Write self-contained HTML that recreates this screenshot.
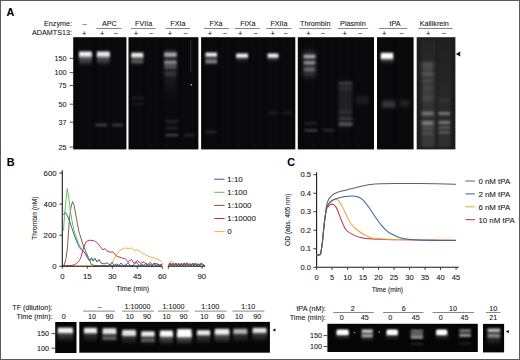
<!DOCTYPE html>
<html><head><meta charset="utf-8"><title>Figure</title>
<style>
html,body{margin:0;padding:0;background:#fff;}
body{width:520px;height:360px;overflow:hidden;}
svg{display:block;font-family:"Liberation Sans",sans-serif;}
text{stroke:#333;stroke-width:0.08px;}
</style></head>
<body>
<svg width="520" height="360" viewBox="0 0 520 360">
<defs>
<filter id="b05" x="-50%" y="-50%" width="200%" height="200%"><feGaussianBlur stdDeviation="0.5"/></filter>
<filter id="b07" x="-50%" y="-50%" width="200%" height="200%"><feGaussianBlur stdDeviation="0.7"/></filter>
<filter id="b1" x="-50%" y="-50%" width="200%" height="200%"><feGaussianBlur stdDeviation="1.0"/></filter>
<filter id="b13" x="-50%" y="-50%" width="200%" height="200%"><feGaussianBlur stdDeviation="1.3"/></filter>
<filter id="b15" x="-50%" y="-50%" width="200%" height="200%"><feGaussianBlur stdDeviation="1.5"/></filter>
<filter id="b2" x="-50%" y="-50%" width="200%" height="200%"><feGaussianBlur stdDeviation="2.0"/></filter>
<filter id="b25" x="-50%" y="-50%" width="200%" height="200%"><feGaussianBlur stdDeviation="2.5"/></filter>
<filter id="b3" x="-50%" y="-50%" width="200%" height="200%"><feGaussianBlur stdDeviation="3.0"/></filter>
<linearGradient id="sm" x1="0" y1="0" x2="0" y2="1"><stop offset="0" stop-color="#fff" stop-opacity="1"/><stop offset="1" stop-color="#fff" stop-opacity="0"/></linearGradient>
<linearGradient id="smi" x1="0" y1="0" x2="0" y2="1"><stop offset="0" stop-color="#fff" stop-opacity="0"/><stop offset="1" stop-color="#fff" stop-opacity="1"/></linearGradient>
</defs>
<rect x="0.00" y="0.00" width="520.00" height="360.00" fill="#fff" />
<text x="6.60" y="16.00" font-size="10.8" text-anchor="start" font-weight="bold" fill="#000" >A</text>
<text x="72.00" y="25.70" font-size="7.2" text-anchor="end" font-weight="normal" fill="#111" >Enzyme:</text>
<text x="72.00" y="35.10" font-size="7.2" text-anchor="end" font-weight="normal" fill="#111" >ADAMTS13:</text>
<rect x="73.20" y="37.20" width="53.20" height="112.20" fill="#08080a" />
<rect x="128.50" y="37.20" width="69.90" height="112.20" fill="#08080a" />
<rect x="201.10" y="37.20" width="94.20" height="112.20" fill="#08080a" />
<rect x="297.80" y="37.20" width="76.20" height="112.20" fill="#08080a" />
<rect x="377.00" y="37.20" width="36.60" height="112.20" fill="#08080a" />
<rect x="416.70" y="37.20" width="38.70" height="112.20" fill="#1c1c1c" />
<text x="109.40" y="25.70" font-size="7.2" text-anchor="middle" font-weight="normal" fill="#111" >APC</text>
<line x1="96.30" y1="28.50" x2="121.60" y2="28.50" stroke="#555" stroke-width="0.7"/>
<text x="143.60" y="25.70" font-size="7.2" text-anchor="middle" font-weight="normal" fill="#111" >FVIIa</text>
<line x1="131.00" y1="28.50" x2="155.80" y2="28.50" stroke="#555" stroke-width="0.7"/>
<text x="177.90" y="25.70" font-size="7.2" text-anchor="middle" font-weight="normal" fill="#111" >FXIa</text>
<line x1="165.50" y1="28.50" x2="190.20" y2="28.50" stroke="#555" stroke-width="0.7"/>
<text x="216.00" y="25.70" font-size="7.2" text-anchor="middle" font-weight="normal" fill="#111" >FXa</text>
<line x1="204.00" y1="28.50" x2="229.20" y2="28.50" stroke="#555" stroke-width="0.7"/>
<text x="247.80" y="25.70" font-size="7.2" text-anchor="middle" font-weight="normal" fill="#111" >FIXa</text>
<line x1="234.70" y1="28.50" x2="259.90" y2="28.50" stroke="#555" stroke-width="0.7"/>
<text x="279.00" y="25.70" font-size="7.2" text-anchor="middle" font-weight="normal" fill="#111" >FXIIa</text>
<line x1="266.50" y1="28.50" x2="291.50" y2="28.50" stroke="#555" stroke-width="0.7"/>
<text x="315.20" y="25.70" font-size="7.2" text-anchor="middle" font-weight="normal" fill="#111" >Thrombin</text>
<line x1="299.30" y1="28.50" x2="331.00" y2="28.50" stroke="#555" stroke-width="0.7"/>
<text x="352.90" y="25.70" font-size="7.2" text-anchor="middle" font-weight="normal" fill="#111" >Plasmin</text>
<line x1="338.00" y1="28.50" x2="368.20" y2="28.50" stroke="#555" stroke-width="0.7"/>
<text x="395.00" y="25.70" font-size="7.2" text-anchor="middle" font-weight="normal" fill="#111" >tPA</text>
<line x1="379.00" y1="28.50" x2="407.20" y2="28.50" stroke="#555" stroke-width="0.7"/>
<text x="434.30" y="25.70" font-size="7.2" text-anchor="middle" font-weight="normal" fill="#111" >Kallikrein</text>
<line x1="418.20" y1="28.50" x2="452.60" y2="28.50" stroke="#555" stroke-width="0.7"/>
<text x="84.60" y="25.90" font-size="7.2" text-anchor="middle" font-weight="normal" fill="#111" >–</text>
<text x="84.10" y="35.90" font-size="7.6" text-anchor="middle" font-weight="normal" fill="#111" >+</text>
<text x="102.30" y="35.90" font-size="7.6" text-anchor="middle" font-weight="normal" fill="#111" >+</text>
<text x="136.00" y="35.90" font-size="7.6" text-anchor="middle" font-weight="normal" fill="#111" >+</text>
<text x="170.00" y="35.90" font-size="7.6" text-anchor="middle" font-weight="normal" fill="#111" >+</text>
<text x="209.90" y="35.90" font-size="7.6" text-anchor="middle" font-weight="normal" fill="#111" >+</text>
<text x="240.20" y="35.90" font-size="7.6" text-anchor="middle" font-weight="normal" fill="#111" >+</text>
<text x="272.60" y="35.90" font-size="7.6" text-anchor="middle" font-weight="normal" fill="#111" >+</text>
<text x="308.50" y="35.90" font-size="7.6" text-anchor="middle" font-weight="normal" fill="#111" >+</text>
<text x="344.60" y="35.90" font-size="7.6" text-anchor="middle" font-weight="normal" fill="#111" >+</text>
<text x="384.20" y="35.90" font-size="7.6" text-anchor="middle" font-weight="normal" fill="#111" >+</text>
<text x="428.20" y="35.90" font-size="7.6" text-anchor="middle" font-weight="normal" fill="#111" >+</text>
<text x="115.60" y="35.90" font-size="7.6" text-anchor="middle" font-weight="normal" fill="#111" >−</text>
<text x="151.10" y="35.90" font-size="7.6" text-anchor="middle" font-weight="normal" fill="#111" >−</text>
<text x="185.40" y="35.90" font-size="7.6" text-anchor="middle" font-weight="normal" fill="#111" >−</text>
<text x="225.00" y="35.90" font-size="7.6" text-anchor="middle" font-weight="normal" fill="#111" >−</text>
<text x="255.80" y="35.90" font-size="7.6" text-anchor="middle" font-weight="normal" fill="#111" >−</text>
<text x="285.80" y="35.90" font-size="7.6" text-anchor="middle" font-weight="normal" fill="#111" >−</text>
<text x="323.00" y="35.90" font-size="7.6" text-anchor="middle" font-weight="normal" fill="#111" >−</text>
<text x="360.00" y="35.90" font-size="7.6" text-anchor="middle" font-weight="normal" fill="#111" >−</text>
<text x="401.50" y="35.90" font-size="7.6" text-anchor="middle" font-weight="normal" fill="#111" >−</text>
<text x="443.80" y="35.90" font-size="7.6" text-anchor="middle" font-weight="normal" fill="#111" >−</text>
<text x="66.40" y="60.90" font-size="7.2" text-anchor="end" font-weight="normal" fill="#111" >150</text>
<line x1="69.60" y1="58.30" x2="73.30" y2="58.30" stroke="#222" stroke-width="0.8"/>
<text x="66.40" y="75.20" font-size="7.2" text-anchor="end" font-weight="normal" fill="#111" >100</text>
<line x1="69.60" y1="72.60" x2="73.30" y2="72.60" stroke="#222" stroke-width="0.8"/>
<text x="66.40" y="88.10" font-size="7.2" text-anchor="end" font-weight="normal" fill="#111" >75</text>
<line x1="69.60" y1="85.50" x2="73.30" y2="85.50" stroke="#222" stroke-width="0.8"/>
<text x="66.40" y="106.80" font-size="7.2" text-anchor="end" font-weight="normal" fill="#111" >50</text>
<line x1="69.60" y1="104.20" x2="73.30" y2="104.20" stroke="#222" stroke-width="0.8"/>
<text x="66.40" y="124.80" font-size="7.2" text-anchor="end" font-weight="normal" fill="#111" >37</text>
<line x1="69.60" y1="122.20" x2="73.30" y2="122.20" stroke="#222" stroke-width="0.8"/>
<text x="66.40" y="149.60" font-size="7.2" text-anchor="end" font-weight="normal" fill="#111" >25</text>
<line x1="69.60" y1="147.00" x2="73.30" y2="147.00" stroke="#222" stroke-width="0.8"/>
<rect x="79.00" y="38.20" width="12.80" height="110.20" fill="#fff" fill-opacity="0.012"/>
<rect x="96.90" y="38.20" width="12.90" height="110.20" fill="#fff" fill-opacity="0.012"/>
<rect x="111.80" y="38.20" width="11.20" height="110.20" fill="#fff" fill-opacity="0.012"/>
<rect x="131.30" y="38.20" width="12.00" height="110.20" fill="#fff" fill-opacity="0.012"/>
<rect x="147.00" y="38.20" width="12.00" height="110.20" fill="#fff" fill-opacity="0.012"/>
<rect x="164.20" y="38.20" width="12.50" height="110.20" fill="#fff" fill-opacity="0.012"/>
<rect x="182.00" y="38.20" width="12.50" height="110.20" fill="#fff" fill-opacity="0.012"/>
<rect x="205.50" y="38.20" width="11.50" height="110.20" fill="#fff" fill-opacity="0.012"/>
<rect x="220.00" y="38.20" width="11.00" height="110.20" fill="#fff" fill-opacity="0.012"/>
<rect x="236.20" y="38.20" width="11.80" height="110.20" fill="#fff" fill-opacity="0.012"/>
<rect x="251.00" y="38.20" width="11.00" height="110.20" fill="#fff" fill-opacity="0.012"/>
<rect x="267.60" y="38.20" width="10.80" height="110.20" fill="#fff" fill-opacity="0.012"/>
<rect x="281.00" y="38.20" width="11.00" height="110.20" fill="#fff" fill-opacity="0.012"/>
<rect x="303.40" y="38.20" width="12.20" height="110.20" fill="#fff" fill-opacity="0.012"/>
<rect x="321.00" y="38.20" width="13.00" height="110.20" fill="#fff" fill-opacity="0.012"/>
<rect x="339.00" y="38.20" width="12.50" height="110.20" fill="#fff" fill-opacity="0.012"/>
<rect x="355.00" y="38.20" width="13.80" height="110.20" fill="#fff" fill-opacity="0.012"/>
<rect x="380.80" y="38.20" width="12.40" height="110.20" fill="#fff" fill-opacity="0.012"/>
<rect x="396.00" y="38.20" width="13.00" height="110.20" fill="#fff" fill-opacity="0.012"/>
<rect x="79.00" y="51.50" width="12.80" height="5.00" fill="#fff" fill-opacity="0.95" filter="url(#b13)"/>
<rect x="79.00" y="55.00" width="12.80" height="11.00" fill="url(#sm)" fill-opacity="0.45" filter="url(#b13)"/>
<rect x="96.90" y="51.50" width="12.90" height="5.00" fill="#fff" fill-opacity="0.92" filter="url(#b13)"/>
<rect x="96.90" y="55.00" width="12.90" height="11.00" fill="url(#sm)" fill-opacity="0.42" filter="url(#b13)"/>
<rect x="95.00" y="123.75" width="12.00" height="2.50" fill="#fff" fill-opacity="0.22" filter="url(#b1)"/>
<rect x="111.80" y="123.75" width="11.20" height="2.50" fill="#fff" fill-opacity="0.2" filter="url(#b1)"/>
<rect x="131.30" y="52.70" width="12.00" height="4.60" fill="#fff" fill-opacity="0.92" filter="url(#b13)"/>
<rect x="131.30" y="56.00" width="12.00" height="10.00" fill="url(#sm)" fill-opacity="0.35" filter="url(#b13)"/>
<rect x="131.30" y="60.20" width="12.00" height="3.00" fill="#fff" fill-opacity="0.2" filter="url(#b1)"/>
<rect x="131.30" y="96.80" width="12.70" height="2.40" fill="#fff" fill-opacity="0.08" filter="url(#b1)"/>
<rect x="131.30" y="102.60" width="12.70" height="2.40" fill="#fff" fill-opacity="0.07" filter="url(#b1)"/>
<rect x="164.20" y="50.00" width="12.50" height="50.00" fill="url(#sm)" fill-opacity="0.15" filter="url(#b15)"/>
<rect x="164.20" y="52.70" width="12.50" height="4.00" fill="#fff" fill-opacity="0.62" filter="url(#b13)"/>
<rect x="164.20" y="60.50" width="12.50" height="4.00" fill="#fff" fill-opacity="0.45" filter="url(#b13)"/>
<rect x="164.20" y="65.50" width="12.50" height="3.00" fill="#fff" fill-opacity="0.25" filter="url(#b1)"/>
<rect x="164.20" y="72.00" width="12.50" height="4.00" fill="#fff" fill-opacity="0.12" filter="url(#b15)"/>
<rect x="165.60" y="120.10" width="12.60" height="3.00" fill="#fff" fill-opacity="0.1" filter="url(#b1)"/>
<rect x="165.60" y="126.50" width="12.60" height="3.00" fill="#fff" fill-opacity="0.1" filter="url(#b1)"/>
<rect x="165.60" y="133.80" width="12.60" height="2.60" fill="#fff" fill-opacity="0.22" filter="url(#b1)"/>
<rect x="183.70" y="133.90" width="10.80" height="2.40" fill="#fff" fill-opacity="0.12" filter="url(#b1)"/>
<rect x="190.20" y="40.00" width="1.20" height="32.00" fill="#fff" fill-opacity="0.12" filter="url(#b05)"/>
<rect x="190.60" y="84.00" width="1.40" height="1.40" fill="#fff" fill-opacity="0.7" filter="url(#b05)"/>
<rect x="205.50" y="52.60" width="11.50" height="4.00" fill="#fff" fill-opacity="0.95" filter="url(#b13)"/>
<rect x="205.50" y="59.50" width="11.50" height="4.00" fill="#fff" fill-opacity="0.42" filter="url(#b13)"/>
<rect x="205.50" y="56.00" width="11.50" height="10.00" fill="url(#sm)" fill-opacity="0.2" filter="url(#b13)"/>
<rect x="205.50" y="130.75" width="10.50" height="2.50" fill="#fff" fill-opacity="0.12" filter="url(#b1)"/>
<rect x="267.60" y="111.75" width="10.80" height="2.50" fill="#fff" fill-opacity="0.08" filter="url(#b1)"/>
<rect x="282.00" y="111.75" width="10.00" height="2.50" fill="#fff" fill-opacity="0.07" filter="url(#b1)"/>
<rect x="236.20" y="53.50" width="11.80" height="4.20" fill="#fff" fill-opacity="0.95" filter="url(#b13)"/>
<rect x="236.20" y="57.00" width="11.80" height="6.00" fill="url(#sm)" fill-opacity="0.2" filter="url(#b13)"/>
<rect x="267.60" y="53.50" width="10.80" height="4.20" fill="#fff" fill-opacity="0.95" filter="url(#b13)"/>
<rect x="267.60" y="57.00" width="10.80" height="6.00" fill="url(#sm)" fill-opacity="0.2" filter="url(#b13)"/>
<rect x="303.40" y="51.00" width="12.20" height="26.00" fill="#fff" fill-opacity="0.16" filter="url(#b2)"/>
<rect x="303.60" y="54.80" width="11.80" height="3.40" fill="#fff" fill-opacity="0.6" filter="url(#b13)"/>
<rect x="303.60" y="61.10" width="11.80" height="3.40" fill="#fff" fill-opacity="0.45" filter="url(#b13)"/>
<rect x="303.60" y="67.80" width="11.80" height="3.40" fill="#fff" fill-opacity="0.28" filter="url(#b13)"/>
<rect x="304.70" y="122.15" width="12.70" height="2.50" fill="#fff" fill-opacity="0.1" filter="url(#b1)"/>
<rect x="304.70" y="129.15" width="12.70" height="2.50" fill="#fff" fill-opacity="0.2" filter="url(#b1)"/>
<rect x="322.80" y="129.10" width="11.70" height="2.20" fill="#fff" fill-opacity="0.15" filter="url(#b1)"/>
<rect x="338.50" y="81.00" width="14.00" height="46.00" fill="#fff" fill-opacity="0.09" filter="url(#b15)"/>
<rect x="338.50" y="81.95" width="14.00" height="2.50" fill="#fff" fill-opacity="0.14" filter="url(#b1)"/>
<rect x="338.50" y="86.95" width="14.00" height="2.50" fill="#fff" fill-opacity="0.08" filter="url(#b1)"/>
<rect x="338.50" y="110.75" width="14.00" height="2.50" fill="#fff" fill-opacity="0.08" filter="url(#b1)"/>
<rect x="338.50" y="117.45" width="14.00" height="2.50" fill="#fff" fill-opacity="0.13" filter="url(#b1)"/>
<rect x="338.50" y="122.70" width="14.00" height="3.00" fill="#fff" fill-opacity="0.25" filter="url(#b1)"/>
<rect x="356.00" y="96.00" width="12.80" height="8.00" fill="#fff" fill-opacity="0.08" filter="url(#b15)"/>
<rect x="382.00" y="100.70" width="13.30" height="7.00" fill="#fff" fill-opacity="0.18" filter="url(#b15)"/>
<rect x="399.50" y="100.00" width="10.00" height="7.00" fill="#fff" fill-opacity="0.09" filter="url(#b15)"/>
<rect x="380.80" y="52.80" width="12.40" height="6.00" fill="#fff" fill-opacity="1.0" filter="url(#b1)"/>
<rect x="380.80" y="57.00" width="12.40" height="7.00" fill="url(#sm)" fill-opacity="0.4" filter="url(#b1)"/>
<rect x="421.5" y="39" width="13" height="108" fill="url(#smi)" fill-opacity="0.10" filter="url(#b15)"/>
<rect x="421.50" y="39.00" width="13.00" height="108.00" fill="#fff" fill-opacity="0.035" filter="url(#b15)"/>
<rect x="438" y="39" width="12.5" height="108" fill="url(#smi)" fill-opacity="0.07" filter="url(#b15)"/>
<rect x="438.00" y="39.00" width="12.50" height="108.00" fill="#fff" fill-opacity="0.02" filter="url(#b15)"/>
<rect x="434.30" y="39.00" width="0.90" height="108.00" fill="#fff" fill-opacity="0.05"/>
<rect x="421.70" y="62.00" width="11.80" height="40.00" fill="#fff" fill-opacity="0.07" filter="url(#b2)"/>
<rect x="421.70" y="62.50" width="11.80" height="3.00" fill="#fff" fill-opacity="0.16" filter="url(#b15)"/>
<rect x="421.70" y="66.50" width="11.80" height="3.00" fill="#fff" fill-opacity="0.12" filter="url(#b15)"/>
<rect x="421.70" y="72.30" width="11.80" height="3.00" fill="#fff" fill-opacity="0.18" filter="url(#b15)"/>
<rect x="421.70" y="79.20" width="11.80" height="3.00" fill="#fff" fill-opacity="0.08" filter="url(#b15)"/>
<rect x="421.70" y="86.50" width="11.80" height="3.00" fill="#fff" fill-opacity="0.05" filter="url(#b15)"/>
<rect x="421.70" y="96.50" width="11.80" height="3.00" fill="#fff" fill-opacity="0.05" filter="url(#b15)"/>
<rect x="421.70" y="112.00" width="11.80" height="3.00" fill="#fff" fill-opacity="0.42" filter="url(#b15)"/>
<rect x="421.70" y="121.50" width="11.80" height="3.00" fill="#fff" fill-opacity="0.48" filter="url(#b15)"/>
<rect x="421.70" y="126.40" width="11.80" height="3.00" fill="#fff" fill-opacity="0.16" filter="url(#b15)"/>
<rect x="421.70" y="131.80" width="11.80" height="3.00" fill="#fff" fill-opacity="0.14" filter="url(#b15)"/>
<rect x="438.50" y="112.10" width="11.50" height="2.80" fill="#fff" fill-opacity="0.38" filter="url(#b13)"/>
<rect x="438.50" y="121.10" width="11.50" height="2.80" fill="#fff" fill-opacity="0.38" filter="url(#b13)"/>
<rect x="438.50" y="126.10" width="11.50" height="2.80" fill="#fff" fill-opacity="0.2" filter="url(#b13)"/>
<rect x="438.50" y="131.00" width="11.50" height="2.80" fill="#fff" fill-opacity="0.2" filter="url(#b13)"/>
<rect x="438.50" y="98.60" width="11.50" height="2.80" fill="#fff" fill-opacity="0.05" filter="url(#b13)"/>
<path d="M455.8,54.1 L460.2,51.6 L460.2,56.6 Z" fill="#111"/>
<text x="6.80" y="166.30" font-size="10.8" text-anchor="start" font-weight="bold" fill="#000" >B</text>
<line x1="59.30" y1="266.30" x2="62.30" y2="266.30" stroke="#222" stroke-width="0.9"/>
<text x="56.60" y="269.10" font-size="7.8" text-anchor="end" font-weight="normal" fill="#111" >0</text>
<line x1="59.30" y1="235.20" x2="62.30" y2="235.20" stroke="#222" stroke-width="0.9"/>
<text x="56.60" y="238.00" font-size="7.8" text-anchor="end" font-weight="normal" fill="#111" >200</text>
<line x1="59.30" y1="204.10" x2="62.30" y2="204.10" stroke="#222" stroke-width="0.9"/>
<text x="56.60" y="206.90" font-size="7.8" text-anchor="end" font-weight="normal" fill="#111" >400</text>
<line x1="59.30" y1="173.00" x2="62.30" y2="173.00" stroke="#222" stroke-width="0.9"/>
<text x="56.60" y="175.80" font-size="7.8" text-anchor="end" font-weight="normal" fill="#111" >600</text>
<line x1="62.30" y1="266.30" x2="62.30" y2="268.70" stroke="#222" stroke-width="0.9"/>
<text x="62.30" y="279.00" font-size="7.8" text-anchor="middle" font-weight="normal" fill="#111" >0</text>
<line x1="87.30" y1="266.30" x2="87.30" y2="268.70" stroke="#222" stroke-width="0.9"/>
<text x="87.30" y="279.00" font-size="7.8" text-anchor="middle" font-weight="normal" fill="#111" >15</text>
<line x1="112.30" y1="266.30" x2="112.30" y2="268.70" stroke="#222" stroke-width="0.9"/>
<text x="112.30" y="279.00" font-size="7.8" text-anchor="middle" font-weight="normal" fill="#111" >30</text>
<line x1="137.30" y1="266.30" x2="137.30" y2="268.70" stroke="#222" stroke-width="0.9"/>
<text x="137.30" y="279.00" font-size="7.8" text-anchor="middle" font-weight="normal" fill="#111" >45</text>
<line x1="162.30" y1="266.30" x2="162.30" y2="268.70" stroke="#222" stroke-width="0.9"/>
<text x="162.30" y="279.00" font-size="7.8" text-anchor="middle" font-weight="normal" fill="#111" >60</text>
<line x1="202.00" y1="266.30" x2="202.00" y2="268.70" stroke="#222" stroke-width="0.9"/>
<line x1="168.30" y1="266.30" x2="168.30" y2="268.70" stroke="#222" stroke-width="0.9"/>
<text x="201.80" y="279.00" font-size="7.8" text-anchor="middle" font-weight="normal" fill="#111" >90</text>
<text x="132.70" y="290.80" font-size="6.9" text-anchor="middle" font-weight="normal" fill="#111" >Time (min)</text>
<text transform="translate(36.7,218.2) rotate(-90)" font-size="6.6" text-anchor="middle" fill="#111">Thrombin (nM)</text>
<path d="M62.30,266.00 L108.00,266.00 L110.80,265.30 L113.00,261.00 L116.50,254.80 L120.00,250.20 L125.20,247.90 L128.00,248.60 L131.50,247.90 L135.00,250.80 L137.30,249.60 L141.90,253.00 L146.50,255.40 L151.10,257.10 L155.70,258.30 L160.40,260.60 L162.00,261.50" fill="none" stroke="#f0b040" stroke-width="0.95" stroke-linejoin="round" stroke-linecap="round" />
<path d="M62.30,266.00 L70.00,265.60 L73.90,265.00 L76.50,263.50 L79.40,260.50 L81.20,256.50 L82.90,250.00 L84.50,245.00 L86.40,241.50 L89.20,240.20 L93.30,240.60 L95.50,241.50 L97.50,243.00 L100.30,246.50 L103.00,250.00 L105.00,248.50 L107.20,251.00 L109.60,252.00 L113.10,252.00 L116.50,256.00 L121.10,257.70 L125.20,258.80 L128.10,261.70 L131.50,259.40 L133.80,263.40 L137.30,260.60 L140.80,263.40 L144.00,261.80 L147.00,265.00 L150.00,262.50 L153.00,265.20 L156.00,263.00 L159.00,265.40 L162.00,264.00" fill="none" stroke="#b82c55" stroke-width="0.95" stroke-linejoin="round" stroke-linecap="round" />
<path d="M62.30,266.00 L64.20,265.00 L66.00,258.50 L67.30,249.00 L68.50,232.00 L69.40,220.00 L70.60,209.00 L72.50,201.50 L74.00,205.00 L76.40,218.00 L79.00,232.00 L82.90,244.30 L85.50,251.00 L88.50,257.50 L91.30,264.50 L95.00,265.60 L162.00,266.00" fill="none" stroke="#7b5a3c" stroke-width="0.95" stroke-linejoin="round" stroke-linecap="round" />
<path d="M63.50,230.00 L65.00,210.00 L67.20,188.60 L68.60,196.00 L70.20,210.00 L72.00,221.00 L74.00,230.50 L76.30,237.50 L79.00,244.50 L82.00,249.50 L85.00,253.00 L87.50,256.50 L89.20,260.50 L91.50,257.50 L93.00,260.50 L95.00,258.50 L97.00,261.50 L99.00,260.00" fill="none" stroke="#5cbf5c" stroke-width="0.95" stroke-linejoin="round" stroke-linecap="round" />
<path d="M63.40,214.50 L65.30,212.60 L67.00,215.00 L69.40,220.50 L71.50,227.00 L73.90,234.00 L76.50,241.00 L79.40,247.50 L82.00,250.50 L84.30,252.20 L86.00,255.00 L87.50,258.00 L89.90,261.00 L91.50,258.00 L93.00,261.00 L95.00,258.50 L97.00,262.00 L99.00,259.50 L101.00,263.00 L104.00,264.00 L107.00,262.80 L110.00,265.00 L112.00,262.30 L114.00,265.30 L117.00,264.00 L119.00,265.50 L121.00,263.00 L123.00,265.50 L126.00,265.00 L128.00,262.50 L130.00,265.50 L133.00,265.50 L135.00,263.20 L137.00,262.50 L139.00,265.50 L142.00,264.50 L144.00,265.50 L146.00,263.00 L148.00,265.50 L150.00,264.00 L152.00,265.50 L154.00,263.00 L156.00,265.50 L158.00,264.00 L160.00,265.50 L162.00,264.50" fill="none" stroke="#35618f" stroke-width="0.95" stroke-linejoin="round" stroke-linecap="round" />
<path d="M168.50,264.50 L170.50,261.50 L172.50,261.00 L174.50,263.50 L176.00,265.00" fill="none" stroke="#f0b040" stroke-width="0.95" stroke-linejoin="round" stroke-linecap="round" />
<path d="M169.60,265.60 L170.90,262.99 L172.40,265.60 L173.70,263.24 L175.20,265.60 L176.50,263.10 L178.00,265.60 L179.30,263.28 L180.80,265.60 L182.10,263.30 L183.60,265.60 L184.90,262.85 L186.40,265.60 L187.70,262.81 L189.20,265.60 L190.50,263.47 L192.00,265.60 L193.30,263.01 L194.80,265.60 L196.10,262.99 L197.60,265.60 L198.90,263.60 L200.40,265.60 L201.70,263.18 L205.10,265.60" fill="none" stroke="#f0b040" stroke-width="0.9" stroke-linejoin="round" stroke-linecap="round" />
<path d="M168.60,266.00 L169.90,263.39 L171.40,266.00 L172.70,263.64 L174.20,266.00 L175.50,263.50 L177.00,266.00 L178.30,263.68 L179.80,266.00 L181.10,263.70 L182.60,266.00 L183.90,263.25 L185.40,266.00 L186.70,263.21 L188.20,266.00 L189.50,263.87 L191.00,266.00 L192.30,263.41 L193.80,266.00 L195.10,263.39 L196.60,266.00 L197.90,264.00 L199.40,266.00 L200.70,263.58 L204.10,266.00" fill="none" stroke="#b82c55" stroke-width="0.9" stroke-linejoin="round" stroke-linecap="round" />
<path d="M169.00,265.60 L170.30,262.99 L171.80,265.60 L173.10,263.24 L174.60,265.60 L175.90,263.10 L177.40,265.60 L178.70,263.28 L180.20,265.60 L181.50,263.30 L183.00,265.60 L184.30,262.85 L185.80,265.60 L187.10,262.81 L188.60,265.60 L189.90,263.47 L191.40,265.60 L192.70,263.01 L194.20,265.60 L195.50,262.99 L197.00,265.60 L198.30,263.60 L199.80,265.60 L201.10,263.18 L204.50,265.60" fill="none" stroke="#35618f" stroke-width="0.9" stroke-linejoin="round" stroke-linecap="round" />
<line x1="62.30" y1="170.20" x2="62.30" y2="266.30" stroke="#1a1a1a" stroke-width="1.1"/>
<line x1="62.30" y1="266.30" x2="162.00" y2="266.30" stroke="#1a1a1a" stroke-width="1.1"/>
<line x1="168.30" y1="266.30" x2="205.00" y2="266.30" stroke="#1a1a1a" stroke-width="1.1"/>
<line x1="214.20" y1="179.20" x2="224.60" y2="179.20" stroke="#35618f" stroke-width="1.0"/>
<text x="227.30" y="182.00" font-size="7.9" text-anchor="start" font-weight="normal" fill="#111" >1:10</text>
<line x1="214.20" y1="192.30" x2="224.60" y2="192.30" stroke="#5cbf5c" stroke-width="1.0"/>
<text x="227.30" y="195.10" font-size="7.9" text-anchor="start" font-weight="normal" fill="#111" >1:100</text>
<line x1="214.20" y1="205.40" x2="224.60" y2="205.40" stroke="#7b5a3c" stroke-width="1.0"/>
<text x="227.30" y="208.20" font-size="7.9" text-anchor="start" font-weight="normal" fill="#111" >1:1000</text>
<line x1="214.20" y1="218.50" x2="224.60" y2="218.50" stroke="#b82c55" stroke-width="1.0"/>
<text x="227.30" y="221.30" font-size="7.9" text-anchor="start" font-weight="normal" fill="#111" >1:10000</text>
<line x1="214.20" y1="231.60" x2="224.60" y2="231.60" stroke="#f0b040" stroke-width="1.0"/>
<text x="227.30" y="234.40" font-size="7.9" text-anchor="start" font-weight="normal" fill="#111" >0</text>
<text x="287.30" y="166.00" font-size="10.8" text-anchor="start" font-weight="bold" fill="#000" >C</text>
<line x1="316.60" y1="172.30" x2="316.60" y2="267.30" stroke="#1a1a1a" stroke-width="1.1"/>
<line x1="316.60" y1="267.30" x2="458.70" y2="267.30" stroke="#1a1a1a" stroke-width="1.1"/>
<line x1="313.40" y1="267.30" x2="316.60" y2="267.30" stroke="#222" stroke-width="0.9"/>
<text x="311.00" y="270.00" font-size="7.6" text-anchor="end" font-weight="normal" fill="#111" >0.0</text>
<line x1="313.40" y1="248.78" x2="316.60" y2="248.78" stroke="#222" stroke-width="0.9"/>
<text x="311.00" y="251.48" font-size="7.6" text-anchor="end" font-weight="normal" fill="#111" >0.1</text>
<line x1="313.40" y1="230.26" x2="316.60" y2="230.26" stroke="#222" stroke-width="0.9"/>
<text x="311.00" y="232.96" font-size="7.6" text-anchor="end" font-weight="normal" fill="#111" >0.2</text>
<line x1="313.40" y1="211.74" x2="316.60" y2="211.74" stroke="#222" stroke-width="0.9"/>
<text x="311.00" y="214.44" font-size="7.6" text-anchor="end" font-weight="normal" fill="#111" >0.3</text>
<line x1="313.40" y1="193.22" x2="316.60" y2="193.22" stroke="#222" stroke-width="0.9"/>
<text x="311.00" y="195.92" font-size="7.6" text-anchor="end" font-weight="normal" fill="#111" >0.4</text>
<line x1="313.40" y1="174.70" x2="316.60" y2="174.70" stroke="#222" stroke-width="0.9"/>
<text x="311.00" y="177.40" font-size="7.6" text-anchor="end" font-weight="normal" fill="#111" >0.5</text>
<line x1="316.60" y1="267.30" x2="316.60" y2="269.90" stroke="#222" stroke-width="0.9"/>
<text x="316.60" y="280.40" font-size="7.6" text-anchor="middle" font-weight="normal" fill="#111" >0</text>
<line x1="332.10" y1="267.30" x2="332.10" y2="269.90" stroke="#222" stroke-width="0.9"/>
<text x="332.10" y="280.40" font-size="7.6" text-anchor="middle" font-weight="normal" fill="#111" >5</text>
<line x1="347.60" y1="267.30" x2="347.60" y2="269.90" stroke="#222" stroke-width="0.9"/>
<text x="347.60" y="280.40" font-size="7.6" text-anchor="middle" font-weight="normal" fill="#111" >10</text>
<line x1="363.10" y1="267.30" x2="363.10" y2="269.90" stroke="#222" stroke-width="0.9"/>
<text x="363.10" y="280.40" font-size="7.6" text-anchor="middle" font-weight="normal" fill="#111" >15</text>
<line x1="378.60" y1="267.30" x2="378.60" y2="269.90" stroke="#222" stroke-width="0.9"/>
<text x="378.60" y="280.40" font-size="7.6" text-anchor="middle" font-weight="normal" fill="#111" >20</text>
<line x1="394.10" y1="267.30" x2="394.10" y2="269.90" stroke="#222" stroke-width="0.9"/>
<text x="394.10" y="280.40" font-size="7.6" text-anchor="middle" font-weight="normal" fill="#111" >25</text>
<line x1="409.60" y1="267.30" x2="409.60" y2="269.90" stroke="#222" stroke-width="0.9"/>
<text x="409.60" y="280.40" font-size="7.6" text-anchor="middle" font-weight="normal" fill="#111" >30</text>
<line x1="425.10" y1="267.30" x2="425.10" y2="269.90" stroke="#222" stroke-width="0.9"/>
<text x="425.10" y="280.40" font-size="7.6" text-anchor="middle" font-weight="normal" fill="#111" >35</text>
<line x1="440.60" y1="267.30" x2="440.60" y2="269.90" stroke="#222" stroke-width="0.9"/>
<text x="440.60" y="280.40" font-size="7.6" text-anchor="middle" font-weight="normal" fill="#111" >40</text>
<line x1="456.10" y1="267.30" x2="456.10" y2="269.90" stroke="#222" stroke-width="0.9"/>
<text x="456.10" y="280.40" font-size="7.6" text-anchor="middle" font-weight="normal" fill="#111" >45</text>
<text x="387.40" y="292.00" font-size="6.6" text-anchor="middle" font-weight="normal" fill="#111" >Time (min)</text>
<text transform="translate(289.6,219.8) rotate(-90)" font-size="6.6" text-anchor="middle" fill="#111">OD (abs. 405 nm)</text>
<path d="M316.70,254.60 C317.28,254.60 319.45,255.28 320.20,254.60 C320.95,253.92 320.85,252.43 321.20,250.50 C321.55,248.57 321.95,245.92 322.30,243.00 C322.65,240.08 322.95,236.42 323.30,233.00 C323.65,229.58 324.00,225.83 324.40,222.50 C324.80,219.17 325.38,215.17 325.70,213.00 C326.02,210.83 325.75,210.70 326.30,209.50 C326.85,208.30 328.13,206.68 329.00,205.80 C329.87,204.92 330.75,204.40 331.50,204.20 C332.25,204.00 332.83,204.22 333.50,204.60 C334.17,204.98 334.83,205.60 335.50,206.50 C336.17,207.40 336.47,207.57 337.50,210.00 C338.53,212.43 340.27,217.77 341.70,221.10 C343.13,224.43 344.25,227.75 346.10,230.00 C347.95,232.25 350.20,233.30 352.80,234.60 C355.40,235.90 358.37,237.07 361.70,237.80 C365.03,238.53 366.42,238.67 372.80,239.00 C379.18,239.33 386.20,239.60 400.00,239.80 C413.80,240.00 446.33,240.13 455.60,240.20" fill="none" stroke="#c02a55" stroke-width="1.05" stroke-linejoin="round" stroke-linecap="round" />
<path d="M316.70,254.60 C317.28,254.60 319.45,255.28 320.20,254.60 C320.95,253.92 320.85,252.43 321.20,250.50 C321.55,248.57 321.95,245.92 322.30,243.00 C322.65,240.08 322.95,236.42 323.30,233.00 C323.65,229.58 324.00,225.83 324.40,222.50 C324.80,219.17 325.35,215.25 325.70,213.00 C326.05,210.75 326.03,210.53 326.50,209.00 C326.97,207.47 327.58,205.27 328.50,203.80 C329.42,202.33 330.73,201.00 332.00,200.20 C333.27,199.40 334.93,198.82 336.10,199.00 C337.27,199.18 338.07,200.20 339.00,201.30 C339.93,202.40 340.52,203.42 341.70,205.60 C342.88,207.78 344.62,211.45 346.10,214.40 C347.58,217.35 348.75,220.70 350.60,223.30 C352.45,225.90 354.62,227.95 357.20,230.00 C359.78,232.05 363.13,234.17 366.10,235.60 C369.07,237.03 370.18,237.93 375.00,238.60 C379.82,239.27 381.57,239.33 395.00,239.60 C408.43,239.87 445.50,240.10 455.60,240.20" fill="none" stroke="#eda43c" stroke-width="1.05" stroke-linejoin="round" stroke-linecap="round" />
<path d="M316.70,254.60 C317.28,254.60 319.45,255.28 320.20,254.60 C320.95,253.92 320.85,252.43 321.20,250.50 C321.55,248.57 321.95,245.92 322.30,243.00 C322.65,240.08 322.95,236.42 323.30,233.00 C323.65,229.58 324.00,225.83 324.40,222.50 C324.80,219.17 325.35,215.33 325.70,213.00 C326.05,210.67 326.07,209.93 326.50,208.50 C326.93,207.07 327.25,205.78 328.30,204.40 C329.35,203.02 330.95,201.30 332.80,200.20 C334.65,199.10 336.82,198.45 339.40,197.80 C341.98,197.15 345.70,196.55 348.30,196.30 C350.90,196.05 352.77,195.87 355.00,196.30 C357.23,196.73 359.48,197.20 361.70,198.90 C363.92,200.60 366.08,203.57 368.30,206.50 C370.52,209.43 372.77,213.32 375.00,216.50 C377.23,219.68 379.48,222.98 381.70,225.60 C383.92,228.22 385.80,230.38 388.30,232.20 C390.80,234.02 394.20,235.43 396.70,236.50 C399.20,237.57 401.08,238.10 403.30,238.60 C405.52,239.10 406.67,239.23 410.00,239.50 C413.33,239.77 415.70,240.02 423.30,240.20 C430.90,240.38 450.22,240.53 455.60,240.60" fill="none" stroke="#3b64a0" stroke-width="1.05" stroke-linejoin="round" stroke-linecap="round" />
<path d="M316.70,254.60 C317.28,254.60 319.45,255.28 320.20,254.60 C320.95,253.92 320.85,252.43 321.20,250.50 C321.55,248.57 321.95,245.92 322.30,243.00 C322.65,240.08 322.95,236.42 323.30,233.00 C323.65,229.58 324.00,225.83 324.40,222.50 C324.80,219.17 325.33,215.83 325.70,213.00 C326.07,210.17 326.12,207.75 326.60,205.50 C327.08,203.25 327.57,201.32 328.60,199.50 C329.63,197.68 331.37,195.78 332.80,194.60 C334.23,193.42 334.62,193.23 337.20,192.40 C339.78,191.57 344.60,190.53 348.30,189.60 C352.00,188.67 355.68,187.63 359.40,186.80 C363.12,185.97 366.88,185.10 370.60,184.60 C374.32,184.10 377.63,183.98 381.70,183.80 C385.77,183.62 388.62,183.53 395.00,183.50 C401.38,183.47 409.90,183.48 420.00,183.60 C430.10,183.72 449.67,184.10 455.60,184.20" fill="none" stroke="#6e5c49" stroke-width="1.05" stroke-linejoin="round" stroke-linecap="round" />
<line x1="465.40" y1="181.00" x2="474.90" y2="181.00" stroke="#6e5c49" stroke-width="1.0"/>
<text x="478.40" y="184.20" font-size="7.9" text-anchor="start" font-weight="normal" fill="#111" >0 nM tPA</text>
<line x1="465.40" y1="193.90" x2="474.90" y2="193.90" stroke="#3b64a0" stroke-width="1.0"/>
<text x="478.40" y="197.10" font-size="7.9" text-anchor="start" font-weight="normal" fill="#111" >2 nM tPA</text>
<line x1="465.40" y1="206.80" x2="474.90" y2="206.80" stroke="#eda43c" stroke-width="1.0"/>
<text x="478.40" y="210.00" font-size="7.9" text-anchor="start" font-weight="normal" fill="#111" >6 nM tPA</text>
<line x1="465.40" y1="219.70" x2="474.90" y2="219.70" stroke="#c02a55" stroke-width="1.0"/>
<text x="478.40" y="222.90" font-size="7.9" text-anchor="start" font-weight="normal" fill="#111" >10 nM tPA</text>
<text x="52.60" y="309.80" font-size="7.2" text-anchor="end" font-weight="normal" fill="#111" >TF (dilution):</text>
<text x="52.60" y="318.80" font-size="7.2" text-anchor="end" font-weight="normal" fill="#111" >Time (min):</text>
<text x="63.70" y="318.80" font-size="7.2" text-anchor="middle" font-weight="normal" fill="#111" >0</text>
<rect x="55.20" y="322.00" width="21.30" height="31.00" fill="#060606" />
<rect x="79.30" y="321.90" width="190.60" height="30.80" fill="#060606" />
<text x="49.00" y="336.20" font-size="7.2" text-anchor="end" font-weight="normal" fill="#111" >150</text>
<line x1="51.50" y1="333.60" x2="55.30" y2="333.60" stroke="#222" stroke-width="0.8"/>
<text x="49.00" y="350.80" font-size="7.2" text-anchor="end" font-weight="normal" fill="#111" >100</text>
<line x1="51.50" y1="348.20" x2="55.30" y2="348.20" stroke="#222" stroke-width="0.8"/>
<text x="99.60" y="309.30" font-size="7.2" text-anchor="middle" font-weight="normal" fill="#111" >–</text>
<line x1="83.10" y1="311.10" x2="115.00" y2="311.10" stroke="#555" stroke-width="0.7"/>
<text x="137.60" y="309.30" font-size="7.2" text-anchor="middle" font-weight="normal" fill="#111" >1:10000</text>
<line x1="122.10" y1="311.10" x2="153.80" y2="311.10" stroke="#555" stroke-width="0.7"/>
<text x="173.60" y="309.30" font-size="7.2" text-anchor="middle" font-weight="normal" fill="#111" >1:1000</text>
<line x1="157.90" y1="311.10" x2="188.70" y2="311.10" stroke="#555" stroke-width="0.7"/>
<text x="210.30" y="309.30" font-size="7.2" text-anchor="middle" font-weight="normal" fill="#111" >1:100</text>
<line x1="194.70" y1="311.10" x2="226.60" y2="311.10" stroke="#555" stroke-width="0.7"/>
<text x="248.20" y="309.30" font-size="7.2" text-anchor="middle" font-weight="normal" fill="#111" >1:10</text>
<line x1="232.40" y1="311.10" x2="264.40" y2="311.10" stroke="#555" stroke-width="0.7"/>
<text x="91.90" y="318.80" font-size="7.2" text-anchor="middle" font-weight="normal" fill="#111" >10</text>
<text x="109.60" y="318.80" font-size="7.2" text-anchor="middle" font-weight="normal" fill="#111" >90</text>
<text x="129.80" y="318.80" font-size="7.2" text-anchor="middle" font-weight="normal" fill="#111" >10</text>
<text x="147.10" y="318.80" font-size="7.2" text-anchor="middle" font-weight="normal" fill="#111" >90</text>
<text x="166.50" y="318.80" font-size="7.2" text-anchor="middle" font-weight="normal" fill="#111" >10</text>
<text x="183.40" y="318.80" font-size="7.2" text-anchor="middle" font-weight="normal" fill="#111" >90</text>
<text x="204.30" y="318.80" font-size="7.2" text-anchor="middle" font-weight="normal" fill="#111" >10</text>
<text x="220.40" y="318.80" font-size="7.2" text-anchor="middle" font-weight="normal" fill="#111" >90</text>
<text x="239.10" y="318.80" font-size="7.2" text-anchor="middle" font-weight="normal" fill="#111" >10</text>
<text x="257.20" y="318.80" font-size="7.2" text-anchor="middle" font-weight="normal" fill="#111" >90</text>
<rect x="57.80" y="327.60" width="15.10" height="5.40" fill="#fff" fill-opacity="0.95" filter="url(#b13)"/>
<rect x="57.50" y="331.00" width="15.70" height="11.00" fill="url(#sm)" fill-opacity="0.35" filter="url(#b13)"/>
<rect x="84.10" y="327.80" width="12.80" height="5.40" fill="#fff" fill-opacity="0.92" filter="url(#b13)"/>
<rect x="83.80" y="330.50" width="13.40" height="12.00" fill="url(#sm)" fill-opacity="0.25" filter="url(#b13)"/>
<rect x="102.70" y="328.20" width="13.50" height="5.60" fill="#fff" fill-opacity="0.88" filter="url(#b13)"/>
<rect x="102.40" y="331.00" width="14.10" height="12.00" fill="url(#sm)" fill-opacity="0.35" filter="url(#b13)"/>
<rect x="102.40" y="337.00" width="14.10" height="2.60" fill="#fff" fill-opacity="0.3" filter="url(#b1)"/>
<rect x="122.20" y="329.80" width="13.70" height="6.00" fill="#fff" fill-opacity="0.88" filter="url(#b13)"/>
<rect x="121.90" y="332.80" width="14.30" height="12.00" fill="url(#sm)" fill-opacity="0.28" filter="url(#b13)"/>
<rect x="141.40" y="331.30" width="13.10" height="5.00" fill="#fff" fill-opacity="0.92" filter="url(#b13)"/>
<rect x="141.10" y="333.80" width="13.70" height="12.00" fill="url(#sm)" fill-opacity="0.3" filter="url(#b13)"/>
<rect x="141.10" y="339.00" width="13.70" height="2.60" fill="#fff" fill-opacity="0.3" filter="url(#b1)"/>
<rect x="160.10" y="330.50" width="12.70" height="6.00" fill="#fff" fill-opacity="1.0" filter="url(#b13)"/>
<rect x="159.80" y="333.50" width="13.30" height="12.00" fill="url(#sm)" fill-opacity="0.45" filter="url(#b13)"/>
<rect x="177.20" y="329.00" width="14.30" height="8.00" fill="#fff" fill-opacity="1.0" filter="url(#b13)"/>
<rect x="176.90" y="333.00" width="14.90" height="12.00" fill="url(#sm)" fill-opacity="0.55" filter="url(#b13)"/>
<rect x="197.10" y="330.10" width="12.90" height="5.00" fill="#fff" fill-opacity="0.9" filter="url(#b13)"/>
<rect x="196.80" y="332.60" width="13.50" height="12.00" fill="url(#sm)" fill-opacity="0.3" filter="url(#b13)"/>
<rect x="214.90" y="328.80" width="14.30" height="5.60" fill="#fff" fill-opacity="0.92" filter="url(#b13)"/>
<rect x="214.60" y="331.60" width="14.90" height="12.00" fill="url(#sm)" fill-opacity="0.45" filter="url(#b13)"/>
<rect x="233.40" y="328.70" width="13.80" height="5.00" fill="#fff" fill-opacity="0.66" filter="url(#b13)"/>
<rect x="233.10" y="331.20" width="14.40" height="12.00" fill="url(#sm)" fill-opacity="0.25" filter="url(#b13)"/>
<rect x="252.70" y="327.80" width="13.80" height="5.00" fill="#fff" fill-opacity="0.88" filter="url(#b13)"/>
<rect x="252.40" y="330.30" width="14.40" height="12.00" fill="url(#sm)" fill-opacity="0.3" filter="url(#b13)"/>
<path d="M272.6,330.0 L275.4,328.3 L275.4,331.7 Z" fill="#111"/>
<text x="325.80" y="310.60" font-size="7.2" text-anchor="end" font-weight="normal" fill="#111" >tPA (nM):</text>
<text x="325.80" y="320.20" font-size="7.2" text-anchor="end" font-weight="normal" fill="#111" >Time (min):</text>
<text x="352.70" y="310.60" font-size="7.2" text-anchor="middle" font-weight="normal" fill="#111" >2</text>
<line x1="333.10" y1="312.50" x2="373.80" y2="312.50" stroke="#555" stroke-width="0.7"/>
<text x="403.70" y="310.60" font-size="7.2" text-anchor="middle" font-weight="normal" fill="#111" >6</text>
<line x1="383.10" y1="312.50" x2="423.50" y2="312.50" stroke="#555" stroke-width="0.7"/>
<text x="453.10" y="310.60" font-size="7.2" text-anchor="middle" font-weight="normal" fill="#111" >10</text>
<line x1="432.50" y1="312.50" x2="473.90" y2="312.50" stroke="#555" stroke-width="0.7"/>
<text x="341.70" y="320.20" font-size="7.2" text-anchor="middle" font-weight="normal" fill="#111" >0</text>
<text x="364.80" y="320.20" font-size="7.2" text-anchor="middle" font-weight="normal" fill="#111" >45</text>
<text x="390.20" y="320.20" font-size="7.2" text-anchor="middle" font-weight="normal" fill="#111" >0</text>
<text x="415.80" y="320.20" font-size="7.2" text-anchor="middle" font-weight="normal" fill="#111" >45</text>
<text x="440.80" y="320.20" font-size="7.2" text-anchor="middle" font-weight="normal" fill="#111" >0</text>
<text x="464.60" y="320.20" font-size="7.2" text-anchor="middle" font-weight="normal" fill="#111" >45</text>
<text x="493.20" y="310.60" font-size="7.2" text-anchor="middle" font-weight="normal" fill="#111" >10</text>
<line x1="486.00" y1="312.50" x2="500.50" y2="312.50" stroke="#555" stroke-width="0.7"/>
<text x="493.20" y="320.20" font-size="7.2" text-anchor="middle" font-weight="normal" fill="#111" >21</text>
<rect x="327.40" y="323.80" width="150.40" height="28.20" fill="#060606" />
<rect x="483.00" y="323.90" width="21.10" height="28.50" fill="#060606" />
<text x="321.90" y="338.20" font-size="7.2" text-anchor="end" font-weight="normal" fill="#111" >150</text>
<line x1="323.50" y1="335.60" x2="327.40" y2="335.60" stroke="#222" stroke-width="0.8"/>
<text x="321.90" y="349.10" font-size="7.2" text-anchor="end" font-weight="normal" fill="#111" >100</text>
<line x1="323.50" y1="346.50" x2="327.40" y2="346.50" stroke="#222" stroke-width="0.8"/>
<rect x="336.70" y="329.80" width="11.80" height="5.00" fill="#fff" fill-opacity="1.0" filter="url(#b13)"/>
<rect x="337.70" y="330.55" width="9.80" height="3.50" fill="#fff" fill-opacity="1.0" filter="url(#b1)"/>
<rect x="336.20" y="333.00" width="12.80" height="7.00" fill="url(#sm)" fill-opacity="0.3" filter="url(#b13)"/>
<rect x="386.70" y="329.80" width="11.00" height="5.00" fill="#fff" fill-opacity="1.0" filter="url(#b13)"/>
<rect x="387.70" y="330.55" width="9.00" height="3.50" fill="#fff" fill-opacity="1.0" filter="url(#b1)"/>
<rect x="386.20" y="333.00" width="12.00" height="7.00" fill="url(#sm)" fill-opacity="0.3" filter="url(#b13)"/>
<rect x="436.30" y="329.80" width="10.80" height="5.00" fill="#fff" fill-opacity="1.0" filter="url(#b13)"/>
<rect x="437.30" y="330.55" width="8.80" height="3.50" fill="#fff" fill-opacity="1.0" filter="url(#b1)"/>
<rect x="435.80" y="333.00" width="11.80" height="7.00" fill="url(#sm)" fill-opacity="0.3" filter="url(#b13)"/>
<rect x="361.60" y="329.50" width="11.20" height="3.60" fill="#fff" fill-opacity="0.8" filter="url(#b1)"/>
<rect x="361.60" y="334.10" width="11.20" height="3.00" fill="#fff" fill-opacity="0.6" filter="url(#b1)"/>
<rect x="361.60" y="335.00" width="11.20" height="7.00" fill="url(#sm)" fill-opacity="0.25" filter="url(#b13)"/>
<rect x="410.80" y="329.80" width="12.20" height="2.60" fill="#fff" fill-opacity="0.5" filter="url(#b1)"/>
<rect x="410.80" y="333.20" width="12.20" height="2.40" fill="#fff" fill-opacity="0.5" filter="url(#b1)"/>
<rect x="410.80" y="336.00" width="12.20" height="2.60" fill="#fff" fill-opacity="0.65" filter="url(#b1)"/>
<rect x="410.80" y="342.90" width="12.20" height="1.80" fill="#fff" fill-opacity="0.13" filter="url(#b1)"/>
<rect x="459.30" y="329.30" width="11.50" height="3.00" fill="#fff" fill-opacity="0.5" filter="url(#b1)"/>
<rect x="459.30" y="333.80" width="11.50" height="3.00" fill="#fff" fill-opacity="0.62" filter="url(#b1)"/>
<rect x="459.30" y="342.50" width="11.50" height="1.80" fill="#fff" fill-opacity="0.12" filter="url(#b1)"/>
<rect x="353.80" y="331.80" width="1.60" height="1.40" fill="#fff" fill-opacity="0.5" filter="url(#b05)"/>
<rect x="378.40" y="331.30" width="1.60" height="1.40" fill="#fff" fill-opacity="0.5" filter="url(#b05)"/>
<rect x="487.50" y="328.60" width="12.70" height="3.60" fill="#fff" fill-opacity="0.75" filter="url(#b13)"/>
<rect x="487.50" y="333.50" width="12.70" height="3.80" fill="#fff" fill-opacity="0.5" filter="url(#b13)"/>
<rect x="487.50" y="336.00" width="12.70" height="10.00" fill="url(#sm)" fill-opacity="0.2" filter="url(#b13)"/>
<path d="M505.8,331.6 L508.8,330.0 L508.8,333.2 Z" fill="#111"/>
<rect x="0.5" y="0.5" width="519" height="359" fill="none" stroke="#5a5a5a" stroke-width="1"/>
</svg>
</body></html>
